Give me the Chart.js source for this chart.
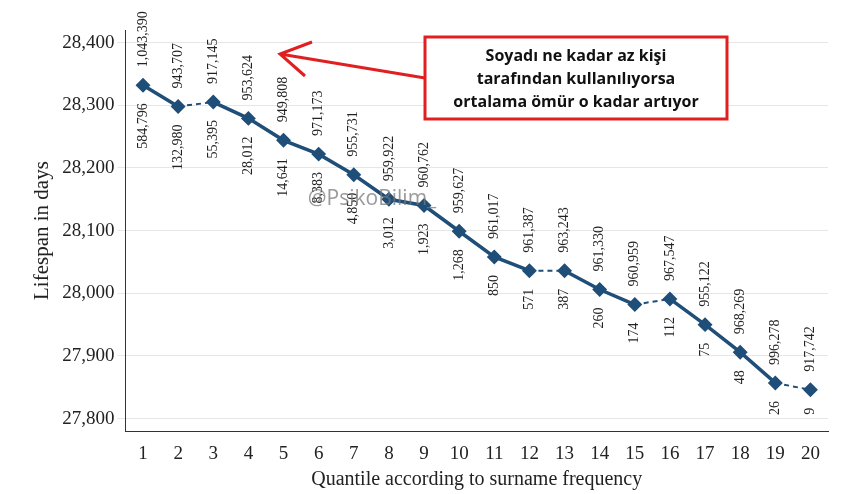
<!DOCTYPE html><html><head><meta charset="utf-8">
<script src="https://cdn.jsdelivr.net/npm/chart.js@4"></script>
<style>body{margin:0;background:#fff}#w{position:relative;width:850px;height:494px}</style></head><body>
<div id="w"><canvas id="c" width="850" height="494"></canvas></div>
<script>
const quantiles=['1','2','3','4','5','6','7','8','9','10','11','12','13','14','15','16','17','18','19','20'];
const lifespan=[28332,28298,28305,28279,28244,28222,28189,28150,28140,28099,28058,28036,28036,28006,27982,27991,27950,27906,27857,27846];
const topLabels=['1,043,390','943,707','917,145','953,624','949,808','971,173','955,731','959,922','960,762','959,627','961,017','961,387','963,243','961,330','960,959','967,547','955,122','968,269','996,278','917,742'];
const bottomLabels=['584,796','132,980','55,395','28,012','14,641','8,383','4,850','3,012','1,923','1,268','850','571','387','260','174','112','75','48','26','9'];
const dashedAfter=[1,11,14,18];
const navy='#1f4e79';
const labelPlugin={id:'lbl',afterDatasetsDraw(ch){
 const ctx=ch.ctx,m=ch.getDatasetMeta(0);
 ctx.save();ctx.font='14px "Liberation Serif"';ctx.fillStyle='#222';
 m.data.forEach((p,i)=>{
  ctx.save();ctx.translate(p.x,p.y-18);ctx.rotate(-Math.PI/2);ctx.textAlign='left';ctx.textBaseline='middle';ctx.fillText(topLabels[i],0,0);ctx.restore();
  ctx.save();ctx.translate(p.x,p.y+18);ctx.rotate(-Math.PI/2);ctx.textAlign='right';ctx.textBaseline='middle';ctx.fillText(bottomLabels[i],0,0);ctx.restore();
 });
 ctx.font='21px "Open Sans"';ctx.fillStyle='rgba(120,120,120,0.75)';ctx.textAlign='center';ctx.fillText('@PsikoBilim_',372,205);
 ctx.strokeStyle='#e02020';ctx.lineWidth=3;
 ctx.beginPath();ctx.moveTo(425,78);ctx.lineTo(280,54);ctx.moveTo(312,42);ctx.lineTo(280,54);ctx.lineTo(305,76);ctx.stroke();
 ctx.lineWidth=3;ctx.fillStyle='#fff';ctx.fillRect(425,37,302,82);ctx.strokeRect(425,37,302,82);
 ctx.fillStyle='#111';ctx.font='bold 16px "Open Sans"';ctx.textAlign='center';ctx.textBaseline='middle';
 ctx.fillText('Soyadı ne kadar az kişi',576,56);ctx.fillText('tarafından kullanılıyorsa',576,79);ctx.fillText('ortalama ömür o kadar artıyor',576,102);
 ctx.restore();
}};
new Chart(document.getElementById('c'),{type:'line',
 data:{labels:quantiles,datasets:[{data:lifespan,borderColor:navy,backgroundColor:navy,borderWidth:3.5,pointStyle:'rectRot',pointRadius:5,pointHoverRadius:5,
  segment:{borderDash:c=>dashedAfter.includes(c.p0DataIndex)?[5,4]:undefined,borderWidth:c=>dashedAfter.includes(c.p0DataIndex)?2:3.5}}]},
 options:{responsive:false,animation:false,layout:{padding:{top:30,right:22,left:26,bottom:2}},
  plugins:{legend:{display:false},tooltip:{enabled:false}},
  scales:{x:{offset:true,grid:{display:false},border:{color:'#333'},ticks:{color:'#222',font:{family:'Liberation Serif',size:19}},
    title:{display:true,text:'Quantile according to surname frequency',color:'#222',font:{family:'Liberation Serif',size:20},padding:0}},
   y:{min:27780,max:28420,afterBuildTicks:a=>{a.ticks=[27800,27900,28000,28100,28200,28300,28400].map(v=>({value:v}));},
    grid:{color:'#e6e6e6'},border:{color:'#333'},ticks:{color:'#222',font:{family:'Liberation Serif',size:19},callback:v=>v.toLocaleString('en-US')},
    title:{display:true,text:'Lifespan in days',color:'#222',font:{family:'Liberation Serif',size:21}}}}},
 plugins:[labelPlugin]});
</script></body></html>
